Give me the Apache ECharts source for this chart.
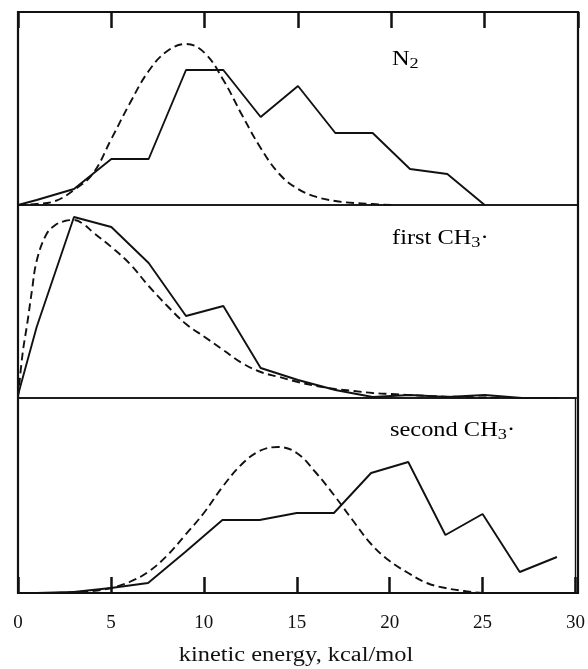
<!DOCTYPE html>
<html><head><meta charset="utf-8">
<script src="https://cdn.jsdelivr.net/npm/echarts@6/dist/echarts.min.js"></script>
<style>html,body{margin:0;padding:0;background:#fff}#c{width:588px;height:669px}</style>
</head><body><div id="c"></div>
<script>
// x-axis ticks (kinetic energy, kcal/mol)
const xTicks = [0, 5, 10, 15, 20, 25, 30];
const xTitle = 'kinetic energy, kcal/mol';

// Panel 1: N2 — observed histogram (solid) and fitted curve (dashed)
const n2ObsX = [0, 1, 3, 5, 7, 9, 11, 13, 15, 17, 19, 21, 23, 25];
const n2ObsY = [0, 5, 16, 46, 46, 135, 135, 88, 119, 72, 72, 36, 31, 0];
const n2FitX = [0, 1, 2, 3, 4, 5, 6, 7, 8, 9, 10, 11, 12, 13, 14, 15, 16, 17, 18, 19, 20];
const n2FitY = [0, 1, 4, 15, 31, 66, 102, 134, 154, 161, 152, 125, 90, 57, 31, 16, 8, 4, 2, 1, 0];

// Panel 2: first CH3·
const ch3aObsX = [0, 1, 3, 5, 7, 9, 11, 13, 15, 17, 19, 21, 23, 25, 27, 29];
const ch3aObsY = [3, 71, 181, 171, 135, 82, 92, 30, 18, 8, 1, 3, 1, 3, 0, 0];
const ch3aFitX = [0, 0.25, 0.5, 0.75, 1, 1.5, 2, 2.5, 3, 3.5, 4, 5, 6, 7, 8, 9, 10, 11, 12, 13, 14, 15, 16, 17, 18, 19, 20, 22, 24, 26];
const ch3aFitY = [0, 45, 75, 108, 137, 163, 173, 177, 178, 174, 166, 151, 134, 112, 92, 74, 61, 48, 35, 26, 21, 16, 12, 9, 7, 5, 4, 2, 1, 0];

// Panel 3: second CH3·
const ch3bObsX = [1, 3, 5, 7, 9, 11, 13, 15, 17, 19, 21, 23, 25, 27, 29];
const ch3bObsY = [0, 1, 5, 10, 41, 73, 73, 80, 80, 120, 131, 58, 79, 21, 36];
const ch3bFitX = [2, 3, 4, 5, 6, 7, 8, 9, 10, 11, 12, 13, 14, 15, 16, 17, 18, 19, 20, 21, 22, 23, 24, 25];
const ch3bFitY = [0, 1, 2, 5, 11, 21, 37, 58, 80, 106, 128, 142, 146, 140, 121, 98, 73, 49, 32, 20, 10, 5, 2, 0];

const panelLabels = ['N', 'first CH', 'second CH'];

const zip = (xs, ys) => xs.map((x, i) => [x, ys[i]]);
const FONT = 'Liberation Serif';
const BLK = '#111';
const SX = 1.22;

const grids = [
  {left: 18, right: 10, top: 12, height: 193},
  {left: 18, right: 10, top: 205, height: 193},
  {left: 18, right: 10, top: 398, height: 195}
].map(g => Object.assign(g, {show: true, borderColor: BLK, borderWidth: 1.4, backgroundColor: 'transparent'}));

const baseX = (i) => ({
  type: 'value', gridIndex: i, min: xTicks[0], max: xTicks[xTicks.length - 1], interval: xTicks[1] - xTicks[0],
  splitLine: {show: false}
});

const xAxes = [
  Object.assign(baseX(0), {position: 'top', axisLine: {show: true, onZero: false, lineStyle: {color: BLK, width: 2}},
    axisTick: {show: true, inside: true, length: 16, lineStyle: {color: BLK, width: 2.5}}, axisLabel: {show: false}}),
  Object.assign(baseX(1), {show: false}),
  Object.assign(baseX(2), {position: 'bottom', axisLine: {show: true, onZero: false, lineStyle: {color: BLK, width: 2}},
    axisTick: {show: true, inside: true, length: 16, lineStyle: {color: BLK, width: 2.5}},
    axisLabel: {show: true, margin: 21, fontFamily: FONT, fontSize: 19, color: BLK}})
];

const yMax = [193, 193, 195];
const yAxes = yMax.map((m, i) => ({type: 'value', gridIndex: i, min: 0, max: m, show: false}));

const solid = (i, data) => ({type: 'line', xAxisIndex: i, yAxisIndex: i, data, symbol: 'none',
  lineStyle: {color: BLK, width: 1.9, type: 'solid'}, z: 3, animation: false});
const dashed = (i, data) => ({type: 'line', xAxisIndex: i, yAxisIndex: i, data, symbol: 'none', smooth: 0.4,
  lineStyle: {color: BLK, width: 1.9, type: [8, 4.5]}, z: 2, animation: false});

const rich = {
  n: {fontFamily: FONT, fontSize: 20, color: BLK},
  s: {fontFamily: FONT, fontSize: 15, color: BLK, padding: [9, 0, 0, 0]}
};

const option = {
  backgroundColor: '#fff',
  animation: false,
  grid: grids,
  xAxis: xAxes,
  yAxis: yAxes,
  series: [
    solid(0, zip(n2ObsX, n2ObsY)), dashed(0, zip(n2FitX, n2FitY)),
    solid(1, zip(ch3aObsX, ch3aObsY)), dashed(1, zip(ch3aFitX, ch3aFitY)),
    solid(2, zip(ch3bObsX, ch3bObsY)), dashed(2, zip(ch3bFitX, ch3bFitY))
  ],
  graphic: [
    {type: 'rect', shape: {x: 18, y: 12, width: 560, height: 581}, style: {fill: null, stroke: BLK, lineWidth: 2.2}, z: 10, silent: true},
    {type: 'text', x: 392, y: 60, scaleX: SX, style: {text: '{n|' + panelLabels[0] + '}{s|2}', rich, verticalAlign: 'middle', align: 'left'}, z: 10},
    {type: 'text', x: 392, y: 239, scaleX: SX, style: {text: '{n|' + panelLabels[1] + '}{s|3}{n|·}', rich, verticalAlign: 'middle', align: 'left'}, z: 10},
    {type: 'text', x: 390, y: 431, scaleX: SX, style: {text: '{n|' + panelLabels[2] + '}{s|3}{n|·}', rich, verticalAlign: 'middle', align: 'left'}, z: 10},
    {type: 'text', x: 296, y: 656, scaleX: SX, style: {text: xTitle, font: '20px "Liberation Serif"', fill: BLK, align: 'center', verticalAlign: 'middle'}, z: 10}
  ]
};

const chart = echarts.init(document.getElementById('c'), null, {renderer: 'canvas'});
chart.setOption(option);
</script>
</body></html>
